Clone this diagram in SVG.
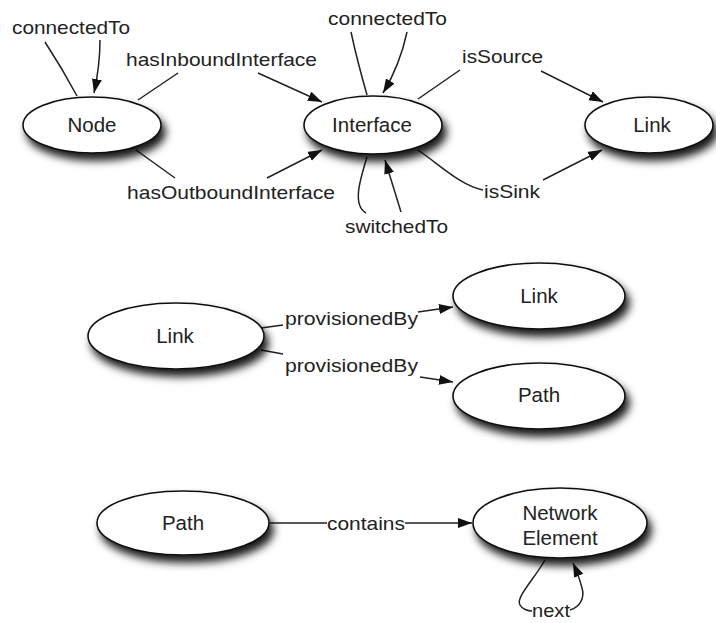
<svg xmlns="http://www.w3.org/2000/svg" width="716" height="623" viewBox="0 0 716 623">
<style>
.node ellipse{fill:#fff;stroke:#111;stroke-width:1.6;filter:url(#sh)}
.nl{font-family:"Liberation Sans",Arial,sans-serif;font-size:20.5px;fill:#222;text-anchor:middle}
.el{font-family:"Liberation Sans",Arial,sans-serif;font-size:19px;fill:#222}
#edges path{fill:none;stroke:#222;stroke-width:1.5}
#edges path.a{marker-end:url(#ah)}
</style>
<defs>
<filter id="sh" x="-20%" y="-30%" width="150%" height="190%">
<feDropShadow dx="4" dy="7" stdDeviation="4.5" flood-color="#000" flood-opacity="0.9"/>
</filter>
<marker id="ah" markerUnits="userSpaceOnUse" markerWidth="16" markerHeight="12" refX="14" refY="5" orient="auto">
<path d="M0,0 L14,5 L0,10 z" fill="#111"/>
</marker>
</defs>
<rect width="716" height="623" fill="#fff"/>
<g id="edges">
<path d="M77,96 Q62,68 45,42"/>
<path class="a" d="M100,40 Q100,65 94,93"/>
<path d="M138,100 L178,73"/>
<path class="a" d="M258,73 L322,102"/>
<path d="M136,150 L175,178"/>
<path class="a" d="M267,178 L322,150"/>
<path d="M367,95 Q357,60 351,32"/>
<path class="a" d="M407,32 Q400,65 383,93"/>
<path d="M418,99 L460,70"/>
<path class="a" d="M541,71 L603,102"/>
<path d="M418,150 C440,165 460,185 483,190"/>
<path class="a" d="M543,180 L602,150"/>
<path d="M367,157 C360,180 352,205 366,213"/>
<path class="a" d="M401,212 L385,160"/>
<path d="M261,328 L283,325"/>
<path class="a" d="M418,312 L453,307"/>
<path d="M261,350 L283,354"/>
<path class="a" d="M420,377 L453,382"/>
<path d="M270,523 L327,523"/>
<path class="a" d="M405,523 L472,523"/>
<path d="M545,560 C535,578 515,598 520,605 C522,609 528,611 532,611"/>
<path class="a" d="M570,610 C580,607 585,598 582,588 C580,580 577,572 573,563"/>
<text class="el" x="12" y="34" textLength="118" lengthAdjust="spacingAndGlyphs">connectedTo</text>
<text class="el" x="126" y="66" textLength="191" lengthAdjust="spacingAndGlyphs">hasInboundInterface</text>
<text class="el" x="127" y="199" textLength="208" lengthAdjust="spacingAndGlyphs">hasOutboundInterface</text>
<text class="el" x="328" y="25" textLength="119" lengthAdjust="spacingAndGlyphs">connectedTo</text>
<text class="el" x="462" y="63" textLength="81" lengthAdjust="spacingAndGlyphs">isSource</text>
<text class="el" x="484" y="198" textLength="56" lengthAdjust="spacingAndGlyphs">isSink</text>
<text class="el" x="345" y="233" textLength="103" lengthAdjust="spacingAndGlyphs">switchedTo</text>
<text class="el" x="285" y="325" textLength="133" lengthAdjust="spacingAndGlyphs">provisionedBy</text>
<text class="el" x="285" y="372" textLength="133" lengthAdjust="spacingAndGlyphs">provisionedBy</text>
<text class="el" x="327" y="530" textLength="78" lengthAdjust="spacingAndGlyphs">contains</text>
<text class="el" x="532" y="617" textLength="38" lengthAdjust="spacingAndGlyphs">next</text>
</g>
<g id="node-node" class="node"><ellipse cx="92" cy="125" rx="69" ry="28"/><text class="nl" x="92" y="132">Node</text></g>
<g id="node-interface" class="node"><ellipse cx="373" cy="125" rx="69" ry="29"/><text class="nl" x="372" y="132">Interface</text></g>
<g id="node-link-top" class="node"><ellipse cx="649" cy="125" rx="64" ry="28"/><text class="nl" x="652" y="132">Link</text></g>
<g id="node-link-mid" class="node"><ellipse cx="176" cy="336" rx="88" ry="33"/><text class="nl" x="175" y="343">Link</text></g>
<g id="node-link-right" class="node"><ellipse cx="539" cy="296" rx="86" ry="33"/><text class="nl" x="539" y="303">Link</text></g>
<g id="node-path-right" class="node"><ellipse cx="539" cy="396" rx="86" ry="33"/><text class="nl" x="539" y="402">Path</text></g>
<g id="node-path-bottom" class="node"><ellipse cx="183" cy="523" rx="86" ry="32"/><text class="nl" x="183" y="530">Path</text></g>
<g id="node-network-element" class="node"><ellipse cx="560" cy="523" rx="87" ry="35"/><text class="nl" x="560" y="520">Network</text><text class="nl" x="560" y="545">Element</text></g>
</svg>
